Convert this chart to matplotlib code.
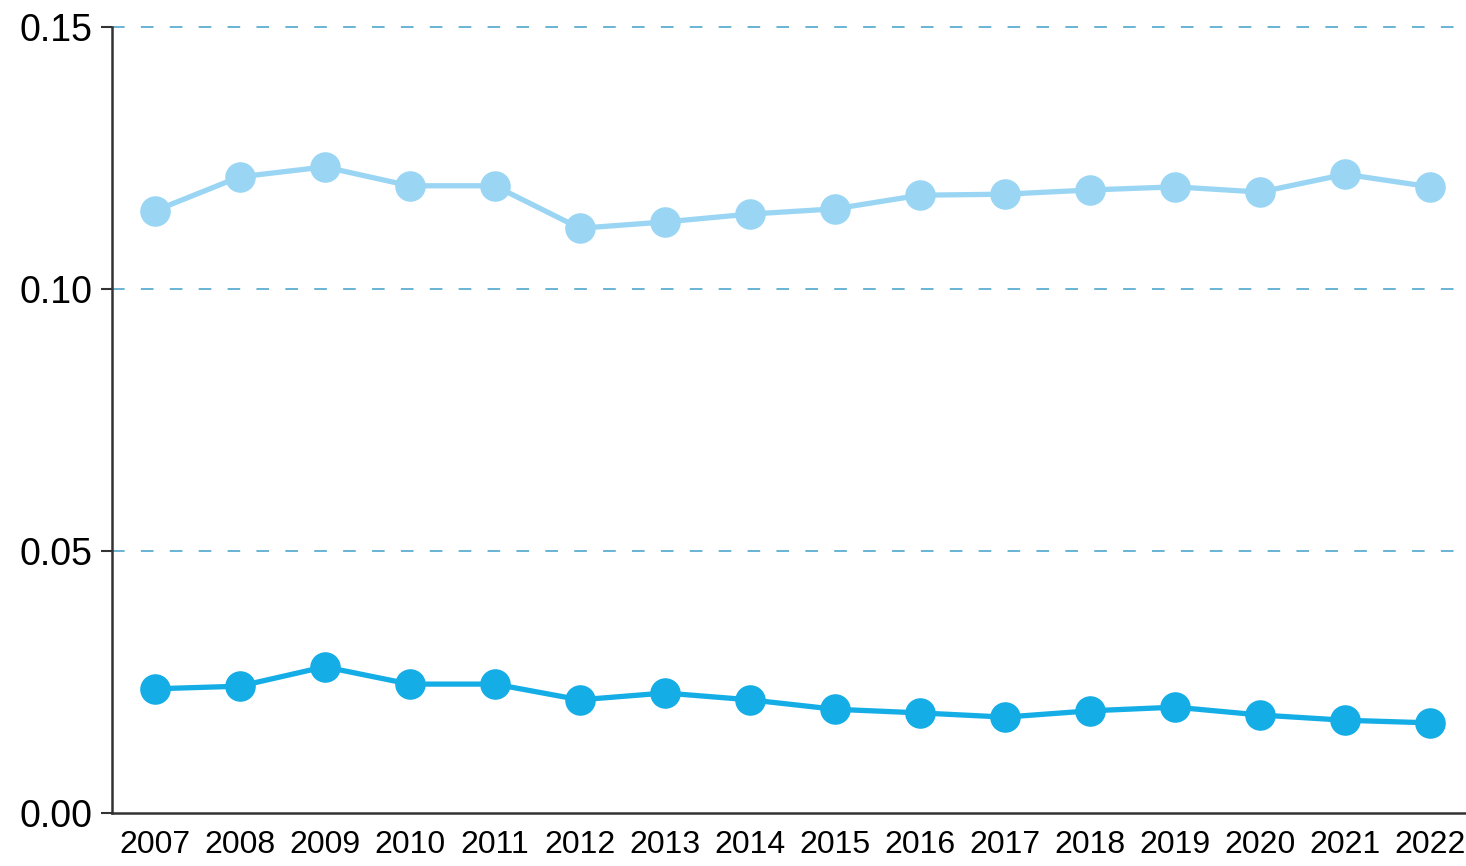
import matplotlib
matplotlib.use("Agg")
import matplotlib.pyplot as plt

years = list(range(2007, 2023))
upper = [0.1149, 0.1214, 0.1233, 0.1197, 0.1197, 0.1116, 0.1128, 0.1143,
         0.1153, 0.1179, 0.1181, 0.1189, 0.1195, 0.1185, 0.1219, 0.1195]
lower = [0.0237, 0.0242, 0.0279, 0.0246, 0.0246, 0.0216, 0.0229, 0.0216,
         0.0198, 0.0191, 0.0183, 0.0195, 0.0202, 0.0187, 0.0177, 0.0172]
yticks = [0.00, 0.05, 0.10, 0.15]

plt.rcParams['font.family'] = ['Liberation Sans', 'DejaVu Sans']

fig = plt.figure(figsize=(14.66, 8.66), dpi=100)
ax = fig.add_axes([0.0764, 0.0612, 0.9236, 0.9076])

for v in yticks[1:]:
    ax.axhline(v, color='#5eaed0', lw=1.3, dashes=(7, 9), zorder=1, clip_on=False)

ax.plot(years, upper, '-o', color='#9ad6f4', lw=3.8, ms=21, zorder=3)
ax.plot(years, lower, '-o', color='#14ade6', lw=3.8, ms=21, zorder=3)

ax.set_xlim(2006.5, 2022.42)
ax.set_ylim(0, 0.15)
ax.set_yticks(yticks)
ax.set_yticklabels(["%.2f" % v for v in yticks], fontsize=27)
ax.set_xticks(years)
ax.set_xticklabels([str(y) for y in years], fontsize=23)
ax.tick_params(axis='x', length=0, pad=12)
ax.tick_params(axis='y', length=8, width=1.5, color='#333333', pad=6)

for s in ['top', 'right']:
    ax.spines[s].set_visible(False)
for s in ['left', 'bottom']:
    ax.spines[s].set_color('#333333')
    ax.spines[s].set_linewidth(1.8)

fig.savefig("out.png", dpi=100)
